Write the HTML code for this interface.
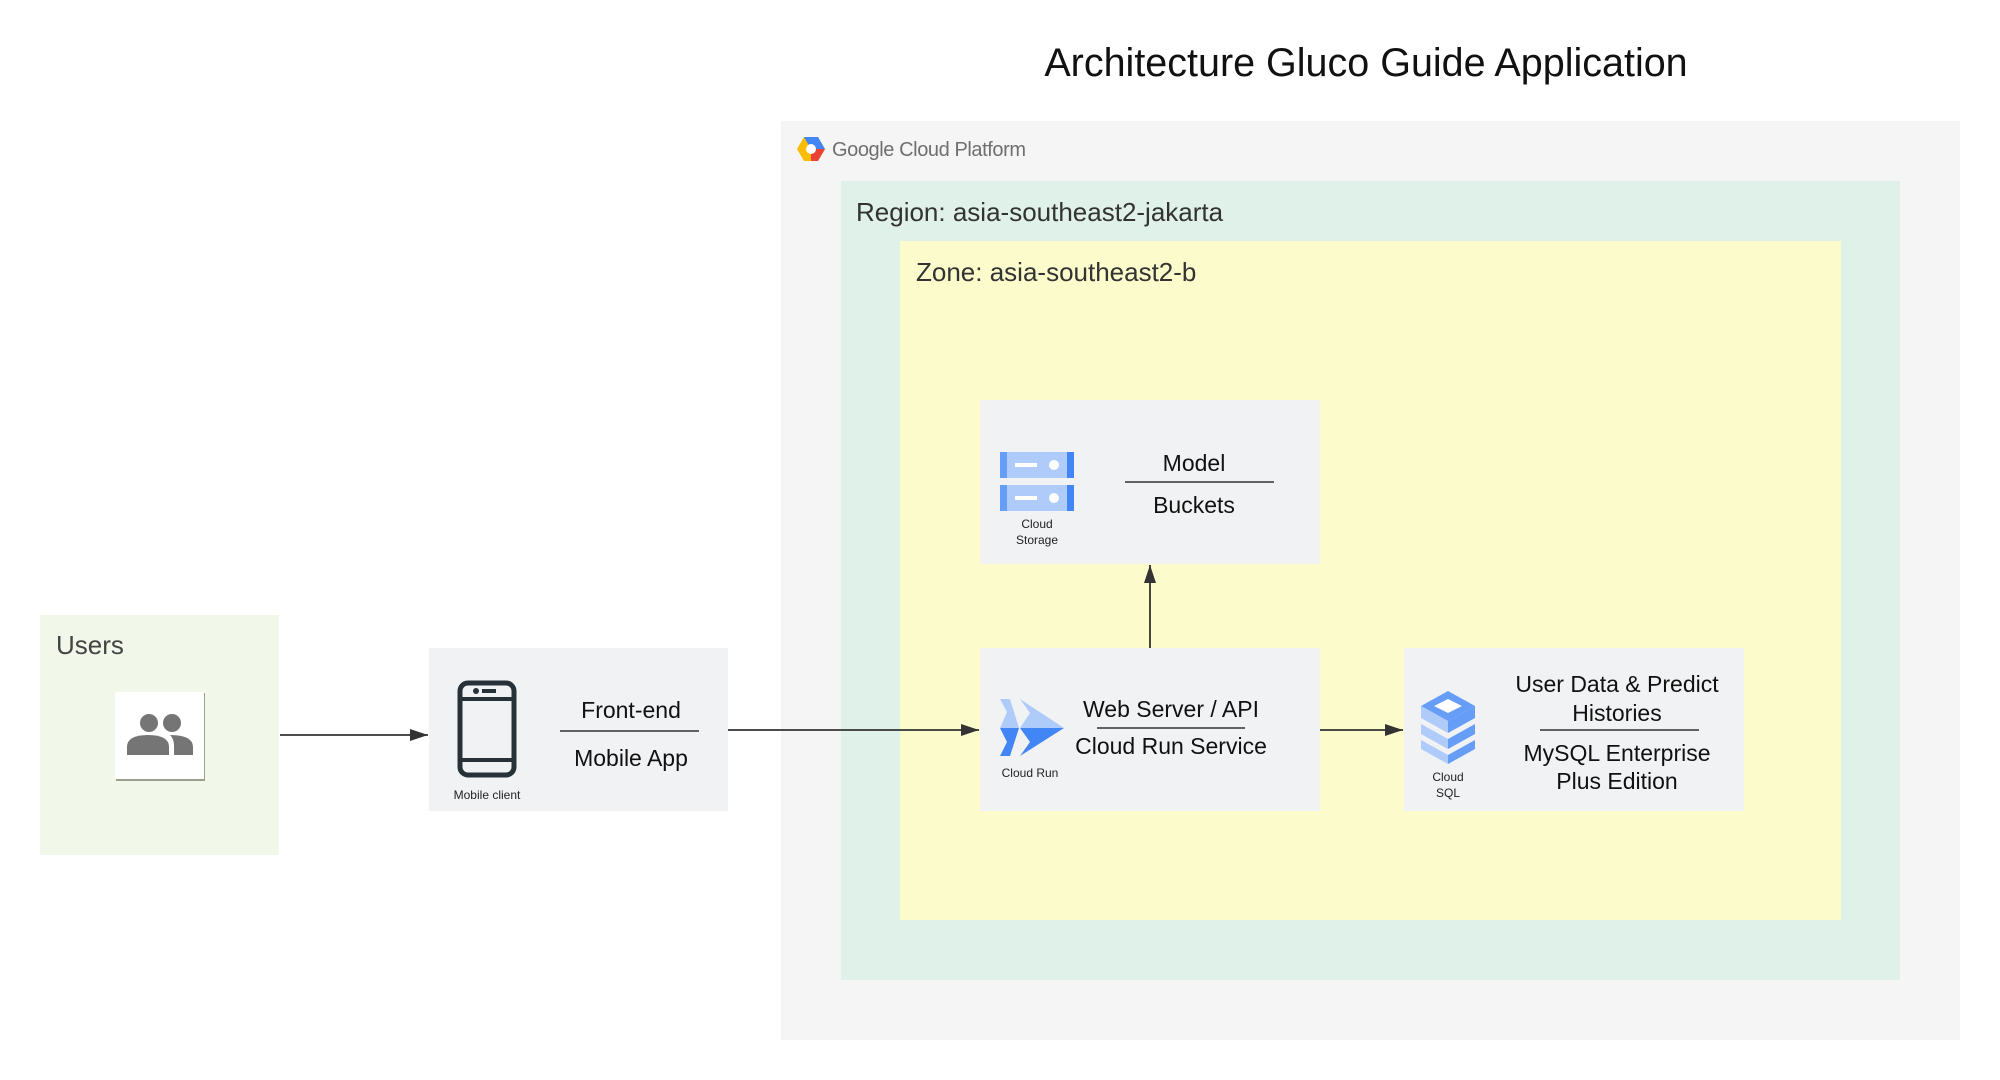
<!DOCTYPE html>
<html><head><meta charset="utf-8"><style>
html,body{margin:0;padding:0;background:#fff;}
svg{display:block;font-family:"Liberation Sans",sans-serif;}
</style></head><body>
<svg width="2000" height="1080" viewBox="0 0 2000 1080" xmlns="http://www.w3.org/2000/svg">
<defs><marker id="ah2" markerWidth="18" markerHeight="12" refX="18" refY="6" orient="auto" markerUnits="userSpaceOnUse"><path d="M0,0 L18,6 L0,12 Z" fill="#333"/></marker></defs>
<text x="1366" y="76" font-size="39.5" text-anchor="middle" fill="#111">Architecture Gluco Guide Application</text>
<rect x="781" y="121" width="1179" height="919" fill="#f5f5f5"/>
<g transform="translate(797,137)">
<polygon points="7,0 21,0 28,12 21,24 7,24 0,12" fill="#fbbc05"/>
<polygon points="7,0 21,0 28,12 14,12" fill="#4285f4"/>
<polygon points="28,12 21,24 14,24 14,12" fill="#ea4335"/>
<circle cx="14" cy="12" r="5" fill="#fff"/>
</g>
<text x="832" y="156" font-size="20" fill="#6f6f6f" textLength="194">Google Cloud Platform</text>
<rect x="841" y="181" width="1059" height="799" fill="#dff1e8"/>
<text x="856" y="221" font-size="26" fill="#333">Region: asia-southeast2-jakarta</text>
<rect x="900" y="241" width="941" height="679" fill="#fbfbcb"/>
<text x="916" y="281" font-size="26" fill="#333">Zone: asia-southeast2-b</text>
<rect x="40" y="615" width="239" height="240" fill="#f1f8e9"/>
<text x="56" y="654" font-size="26" fill="#444">Users</text>
<rect x="116" y="693" width="89" height="88" fill="#9e9e8e"/>
<rect x="115" y="692" width="89" height="87" fill="#fff"/>
<g fill="#757575"><circle cx="149" cy="723" r="9"/><circle cx="172" cy="723" r="9"/>
<path d="M127,755 v-8 q0,-12 21,-12 q21,0 21,12 v8 Z"/><path d="M174,755 v-10 q0,-6 -4,-10 q23,0 23,12 v8 Z"/></g>
<rect x="429" y="648" width="299" height="163" fill="#f1f2f4"/>
<rect x="460" y="683" width="54" height="92" rx="8" fill="none" stroke="#263238" stroke-width="5"/>
<line x1="460" y1="699" x2="514" y2="699" stroke="#263238" stroke-width="4"/>
<line x1="460" y1="760" x2="514" y2="760" stroke="#263238" stroke-width="4"/>
<circle cx="476" cy="691" r="3" fill="#263238"/><rect x="482" y="689" width="14" height="4" fill="#263238"/>
<text x="487" y="799" font-size="12" text-anchor="middle" fill="#222">Mobile client</text>
<text x="631" y="718" font-size="23" text-anchor="middle" fill="#111">Front-end</text>
<line x1="560" y1="731" x2="699" y2="731" stroke="#333" stroke-width="1.5"/>
<text x="631" y="766" font-size="23" text-anchor="middle" fill="#111">Mobile App</text>
<rect x="980" y="400" width="340" height="164" fill="#f1f2f4"/>
<g><rect x="1000" y="452" width="74" height="26" fill="#aecbfa"/><rect x="1000" y="485" width="74" height="26" fill="#aecbfa"/>
<rect x="1000" y="452" width="7" height="26" fill="#669df6"/><rect x="1067" y="452" width="7" height="26" fill="#4285f4"/>
<rect x="1000" y="485" width="7" height="26" fill="#669df6"/><rect x="1067" y="485" width="7" height="26" fill="#4285f4"/>
<rect x="1015" y="463" width="22" height="4" fill="#fff"/><circle cx="1054" cy="465" r="5" fill="#fff"/>
<rect x="1015" y="496" width="22" height="4" fill="#fff"/><circle cx="1054" cy="498" r="5" fill="#fff"/></g>
<text x="1037" y="528" font-size="12" text-anchor="middle" fill="#222">Cloud</text>
<text x="1037" y="544" font-size="12" text-anchor="middle" fill="#222">Storage</text>
<text x="1194" y="471" font-size="23" text-anchor="middle" fill="#111">Model</text>
<line x1="1125" y1="482" x2="1274" y2="482" stroke="#333" stroke-width="1.5"/>
<text x="1194" y="513" font-size="23" text-anchor="middle" fill="#111">Buckets</text>
<rect x="980" y="648" width="340" height="163" fill="#f1f2f4"/>
<polygon points="1000,699 1010,699 1019,728 1000,728 1007,712" fill="#aecbfa"/>
<polygon points="1000,728 1019,728 1010,756 1000,756 1007,742" fill="#4285f4"/>
<polygon points="1020,699 1064,728 1020,728 1030,713" fill="#aecbfa"/>
<polygon points="1020,756 1064,728 1020,728 1030,742" fill="#4285f4"/>
<text x="1030" y="777" font-size="12" text-anchor="middle" fill="#222">Cloud Run</text>
<text x="1171" y="717" font-size="23" text-anchor="middle" fill="#111">Web Server / API</text>
<line x1="1097" y1="728" x2="1245" y2="728" stroke="#333" stroke-width="1.5"/>
<text x="1171" y="754" font-size="23" text-anchor="middle" fill="#111">Cloud Run Service</text>
<rect x="1404" y="648" width="340" height="163" fill="#f1f2f4"/>
<g transform="translate(1421,691)">
<polygon points="27,0 54,15 27,30 0,15" fill="#669df6"/>
<polygon points="27,8 41,15 27,22 13,15" fill="#fff"/>
<polygon points="0,15 27,30 27,42 0,27" fill="#aecbfa"/><polygon points="54,15 27,30 27,42 54,27" fill="#669df6"/>
<polygon points="0,33 27,48 27,58 0,43" fill="#aecbfa"/><polygon points="54,33 27,48 27,58 54,43" fill="#669df6"/>
<polygon points="0,49 27,64 27,73 0,58" fill="#aecbfa"/><polygon points="54,49 27,64 27,73 54,58" fill="#669df6"/>
</g>
<text x="1448" y="781" font-size="12" text-anchor="middle" fill="#222">Cloud</text>
<text x="1448" y="797" font-size="12" text-anchor="middle" fill="#222">SQL</text>
<text x="1617" y="692" font-size="23" text-anchor="middle" fill="#111">User Data &amp; Predict</text>
<text x="1617" y="721" font-size="23" text-anchor="middle" fill="#111">Histories</text>
<line x1="1540" y1="730" x2="1699" y2="730" stroke="#333" stroke-width="1.5"/>
<text x="1617" y="761" font-size="23" text-anchor="middle" fill="#111">MySQL Enterprise</text>
<text x="1617" y="789" font-size="23" text-anchor="middle" fill="#111">Plus Edition</text>
<g stroke="#333" stroke-width="1.8" fill="none">
<line x1="280" y1="735" x2="428" y2="735" marker-end="url(#ah2)"/>
<line x1="728" y1="730" x2="979" y2="730" marker-end="url(#ah2)"/>
<line x1="1320" y1="730" x2="1403" y2="730" marker-end="url(#ah2)"/>
<line x1="1150" y1="648" x2="1150" y2="565" marker-end="url(#ah2)"/>
</g>
</svg>
</body></html>
